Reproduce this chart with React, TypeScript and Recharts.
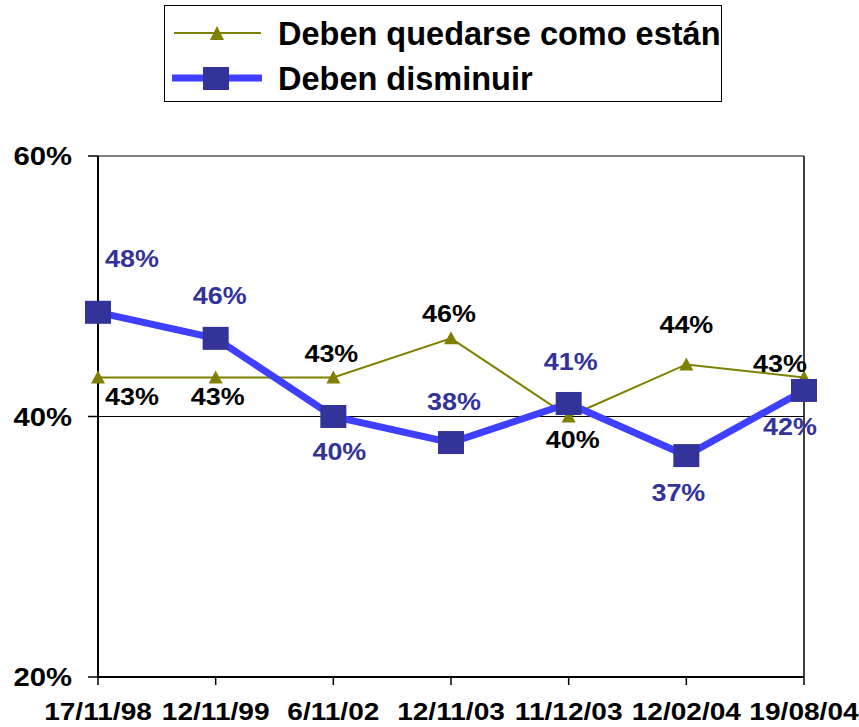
import React from 'react';
import {
  LineChart,
  Line,
  XAxis,
  YAxis,
  CartesianGrid,
  ReferenceLine,
  Legend,
  LabelList,
} from 'recharts';

const DATES = ['17/11/98', '12/11/99', '6/11/02', '12/11/03', '11/12/03', '12/02/04', '19/08/04'];
const QUEDARSE = [43, 43, 43, 46, 40, 44, 43];
const DISMINUIR = [48, 46, 40, 38, 41, 37, 42];
const Y_TICKS = [20, 40, 60];

// label placement (offset from the point, baseline)
const QUEDARSE_DX = [34, 2, -2, -2, 4, 0, -24];
const QUEDARSE_DY = [28, 28, -15, -16, 31, -31, -5];
const DISMINUIR_DX = [34, 4, 6, 3, 2, -8, -14];
const DISMINUIR_DY = [-45, -34, 43, -33, -33, 45, 45];

const OLIVE = '#808000';
const BLUE_LINE = '#3F3FFF';
const NAVY = '#333399';
const FONT = "'Liberation Sans', Arial, sans-serif";
const SX = 1.17;

const data = DATES.map((d, i) => ({ date: d, quedarse: QUEDARSE[i], disminuir: DISMINUIR[i] }));

function StretchText({ x, y, anchor = 'middle', size = 24, fill = '#000', children }: any) {
  return (
    <g transform={`translate(${x},${y}) scale(${SX},1)`}>
      <text x={0} y={0} textAnchor={anchor} fontFamily={FONT} fontWeight="bold" fontSize={size} fill={fill}>
        {children}
      </text>
    </g>
  );
}

const XTick = (props: any) => {
  const { x, y, payload } = props;
  return <StretchText x={x} y={y + 33} size={24}>{payload.value}</StretchText>;
};

const YTick = (props: any) => {
  const { x, y, payload } = props;
  return <StretchText x={x - 14} y={y + 9} anchor="end" size={25}>{payload.value}%</StretchText>;
};

const Triangle = (props: any) => {
  const { cx, cy, index } = props;
  return (
    <path
      key={`tri-${index}`}
      d={`M${cx - 7},${cy + 6} L${cx},${cy - 7} L${cx + 7},${cy + 6} Z`}
      fill={OLIVE}
    />
  );
};

const Square = (props: any) => {
  const { cx, cy, index } = props;
  return <rect key={`sq-${index}`} x={cx - 13} y={cy - 11.5} width={26} height={23} fill={NAVY} />;
};

const makeLabel = (dx: number[], dy: number[], fill: string) => (props: any) => {
  const { x, y, value, index } = props;
  return (
    <StretchText key={`lbl-${index}`} x={x + dx[index]} y={y + dy[index]} size={23} fill={fill}>
      {value}%
    </StretchText>
  );
};

const LegendBox = () => (
  <div
    style={{
      position: 'relative',
      width: 556,
      height: 95,
      border: '1.5px solid #000',
      background: '#fff',
      fontFamily: FONT,
      fontWeight: 'bold',
      fontSize: 32.5,
      color: '#000',
    }}
  >
    <svg width={110} height={95} style={{ position: 'absolute', left: 0, top: 0 }}>
      <line x1={9} y1={27} x2={96} y2={27} stroke={OLIVE} strokeWidth={2} />
      <path d="M45,34 L52,20 L59,34 Z" fill={OLIVE} />
      <line x1={7} y1={72} x2={97} y2={72} stroke={BLUE_LINE} strokeWidth={7} />
      <rect x={38} y={61} width={26} height={23} fill={NAVY} />
    </svg>
    <div style={{ position: 'absolute', left: 113, top: 10, whiteSpace: 'nowrap', lineHeight: '36px' }}>
      Deben quedarse como están
    </div>
    <div style={{ position: 'absolute', left: 113, top: 55, whiteSpace: 'nowrap', lineHeight: '36px' }}>
      Deben disminuir
    </div>
  </div>
);

export default function App() {
  return (
    <div style={{ position: 'absolute', left: 0, top: 0, width: 859, height: 727, background: '#fff' }}>
      <LineChart width={859} height={727} data={data} margin={{ top: 156, right: 55, bottom: 0, left: 8 }}>
        <CartesianGrid vertical={false} stroke="#000" strokeWidth={1} />
        <XAxis
          dataKey="date"
          height={50}
          axisLine={{ stroke: '#000', strokeWidth: 2 }}
          tickLine={{ stroke: '#000', strokeWidth: 1.5 }}
          tickSize={8}
          tick={<XTick />}
          interval={0}
        />
        <YAxis
          width={90}
          domain={[20, 60]}
          ticks={Y_TICKS}
          axisLine={{ stroke: '#000', strokeWidth: 2 }}
          tickLine={{ stroke: '#000', strokeWidth: 1.5 }}
          tickSize={10}
          tick={<YTick />}
        />
        <ReferenceLine x={DATES[DATES.length - 1]} stroke="#000" strokeWidth={1.5} />
        <Legend
          layout="vertical"
          align="center"
          verticalAlign="middle"
          content={<LegendBox />}
          wrapperStyle={{ position: 'absolute', left: 164, top: 5, width: 558, height: 97 }}
        />
        <Line
          dataKey="quedarse"
          stroke={OLIVE}
          strokeWidth={2}
          dot={Triangle}
          activeDot={false}
          isAnimationActive={false}
        >
          <LabelList dataKey="quedarse" content={makeLabel(QUEDARSE_DX, QUEDARSE_DY, '#000')} />
        </Line>
        <Line
          dataKey="disminuir"
          stroke={BLUE_LINE}
          strokeWidth={7}
          dot={Square}
          activeDot={false}
          isAnimationActive={false}
        >
          <LabelList dataKey="disminuir" content={makeLabel(DISMINUIR_DX, DISMINUIR_DY, NAVY)} />
        </Line>
      </LineChart>
    </div>
  );
}
